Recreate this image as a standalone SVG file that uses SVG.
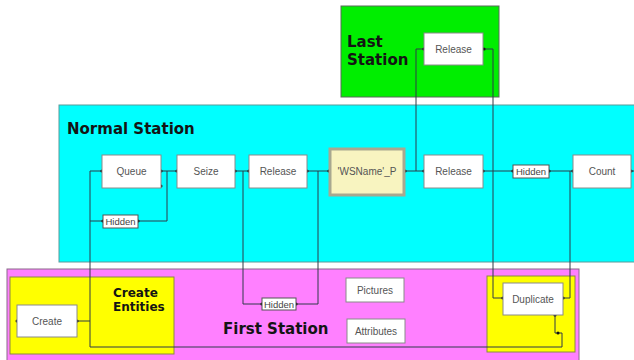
<svg xmlns="http://www.w3.org/2000/svg" width="634" height="360" viewBox="0 0 634 360">
<style>
.area{stroke-width:1}
.title{font-family:"DejaVu Sans",Verdana,sans-serif;font-weight:bold;fill:#141414}
.box{fill:#ffffff;stroke:#8a8a8a;stroke-width:1}
.hid{fill:#ffffff;stroke:#555555;stroke-width:1}
.lbl{font-family:"Liberation Sans",Arial,sans-serif;font-size:10px;fill:#555555;text-anchor:middle}
.hl{font-family:"Liberation Sans",Arial,sans-serif;font-size:9.5px;fill:#444444;text-anchor:middle}
.c{fill:none;stroke:#2e3a48;stroke-width:1}
</style>
<defs>
<marker id="dot" viewBox="0 0 4 4" refX="2" refY="2" markerWidth="4" markerHeight="4" markerUnits="userSpaceOnUse">
<circle cx="2" cy="2" r="1.6" fill="#111111"/>
</marker>
</defs>
<rect width="634" height="360" fill="#ffffff"/>
<g id="last-station">
<rect class="area" x="341" y="6" width="158" height="91" fill="#00ee00" stroke="#5a6a5a"/>
<text class="title" font-size="15" x="347" y="47">Last</text>
<text class="title" font-size="15" x="347" y="65">Station</text>
</g>
<g id="normal-station">
<rect class="area" x="59" y="105" width="590" height="157" fill="#00ffff" stroke="#5a9a9a"/>
<text class="title" font-size="15" x="67" y="134">Normal Station</text>
</g>
<g id="first-station">
<rect class="area" x="7" y="269" width="572" height="100" fill="#ff80ff" stroke="#8a6a8a"/>
<text class="title" font-size="15" x="223" y="334">First Station</text>
</g>
<g id="create-entities">
<rect class="area" x="10" y="277" width="164" height="77" fill="#ffff00" stroke="#8a8a40"/>
<text class="title" font-size="12" x="113" y="297">Create</text>
<text class="title" font-size="12" x="113" y="311">Entities</text>
</g>
<g id="duplicate-area">
<rect class="area" x="487" y="276" width="88" height="76" fill="#ffff00" stroke="#8a8a40"/>
</g>
<g id="connectors">
<path class="c" d="M416,171 V49 H424" marker-end="url(#dot)"/>
<path class="c" d="M484,49 H493 V298 H503" marker-start="url(#dot)" marker-end="url(#dot)"/>
<path class="c" d="M405,171 H424" marker-start="url(#dot)" marker-end="url(#dot)"/>
<path class="c" d="M483,171 H513" marker-start="url(#dot)" marker-end="url(#dot)"/>
<path class="c" d="M549,171 H573" marker-start="url(#dot)" marker-end="url(#dot)"/>
<path class="c" d="M570,171 V298 H563" marker-end="url(#dot)"/>
<path class="c" d="M631,171 H634" marker-start="url(#dot)"/>
<path class="c" d="M90,347 V171 H102" marker-end="url(#dot)"/>
<path class="c" d="M90,221 H103" marker-end="url(#dot)"/>
<path class="c" d="M138,221 H167 V171" marker-start="url(#dot)"/>
<path class="c" d="M161,171 H177" marker-start="url(#dot)" marker-end="url(#dot)"/>
<path class="c" d="M235,171 H249" marker-start="url(#dot)" marker-end="url(#dot)"/>
<path class="c" d="M243,171 V304 H262" marker-end="url(#dot)"/>
<path class="c" d="M307,171 H329" marker-start="url(#dot)" marker-end="url(#dot)"/>
<path class="c" d="M318,171 V304 H296" marker-end="url(#dot)"/>
<path class="c" d="M77,321 H90" marker-start="url(#dot)"/>
<path class="c" d="M555,315 V333 H562 V347 H90" marker-start="url(#dot)"/>
<circle cx="558" cy="333" r="1.5" fill="#111111"/>
<circle cx="161" cy="186" r="1.5" fill="#111111"/>
<circle cx="17" cy="321" r="1.5" fill="#111111"/>
</g>
<g id="release-last">
<rect class="box" x="424" y="33" width="59" height="32"/>
<text class="lbl" x="453.5" y="52.5">Release</text>
</g>
<g id="queue">
<rect class="box" x="102" y="155" width="59" height="33"/>
<text class="lbl" x="131.5" y="174.5">Queue</text>
</g>
<g id="seize">
<rect class="box" x="177" y="155" width="58" height="33"/>
<text class="lbl" x="206" y="174.5">Seize</text>
</g>
<g id="release-1">
<rect class="box" x="249" y="155" width="58" height="33"/>
<text class="lbl" x="278" y="174.5">Release</text>
</g>
<g id="wsname-p">
<rect x="330" y="149" width="74" height="46" fill="#f8f4c0" stroke="#a8a890" stroke-width="3"/>
<text class="lbl" x="367" y="174.5">'WSName'_P</text>
</g>
<g id="release-2">
<rect class="box" x="424" y="155" width="59" height="33"/>
<text class="lbl" x="453.5" y="174.5">Release</text>
</g>
<g id="hidden-normal-2">
<rect class="hid" x="513" y="165" width="36" height="13"/>
<text class="hl" x="531" y="174.5">Hidden</text>
</g>
<g id="count">
<rect class="box" x="573" y="155" width="58" height="33"/>
<text class="lbl" x="602" y="174.5">Count</text>
</g>
<g id="hidden-normal-1">
<rect class="hid" x="103" y="215" width="35" height="13"/>
<text class="hl" x="120.5" y="224.5">Hidden</text>
</g>
<g id="hidden-first">
<rect class="hid" x="262" y="298" width="34" height="12"/>
<text class="hl" x="279" y="307.5">Hidden</text>
</g>
<g id="create">
<rect class="box" x="17" y="305" width="60" height="32"/>
<text class="lbl" x="47" y="324.5">Create</text>
</g>
<g id="pictures">
<rect class="box" x="346" y="278" width="58" height="24"/>
<text class="lbl" x="375" y="293.5">Pictures</text>
</g>
<g id="attributes">
<rect class="box" x="347" y="319" width="58" height="24"/>
<text class="lbl" x="376" y="334.5">Attributes</text>
</g>
<g id="duplicate">
<rect class="box" x="503" y="283" width="60" height="32"/>
<text class="lbl" x="533" y="302.5">Duplicate</text>
</g>
</svg>
